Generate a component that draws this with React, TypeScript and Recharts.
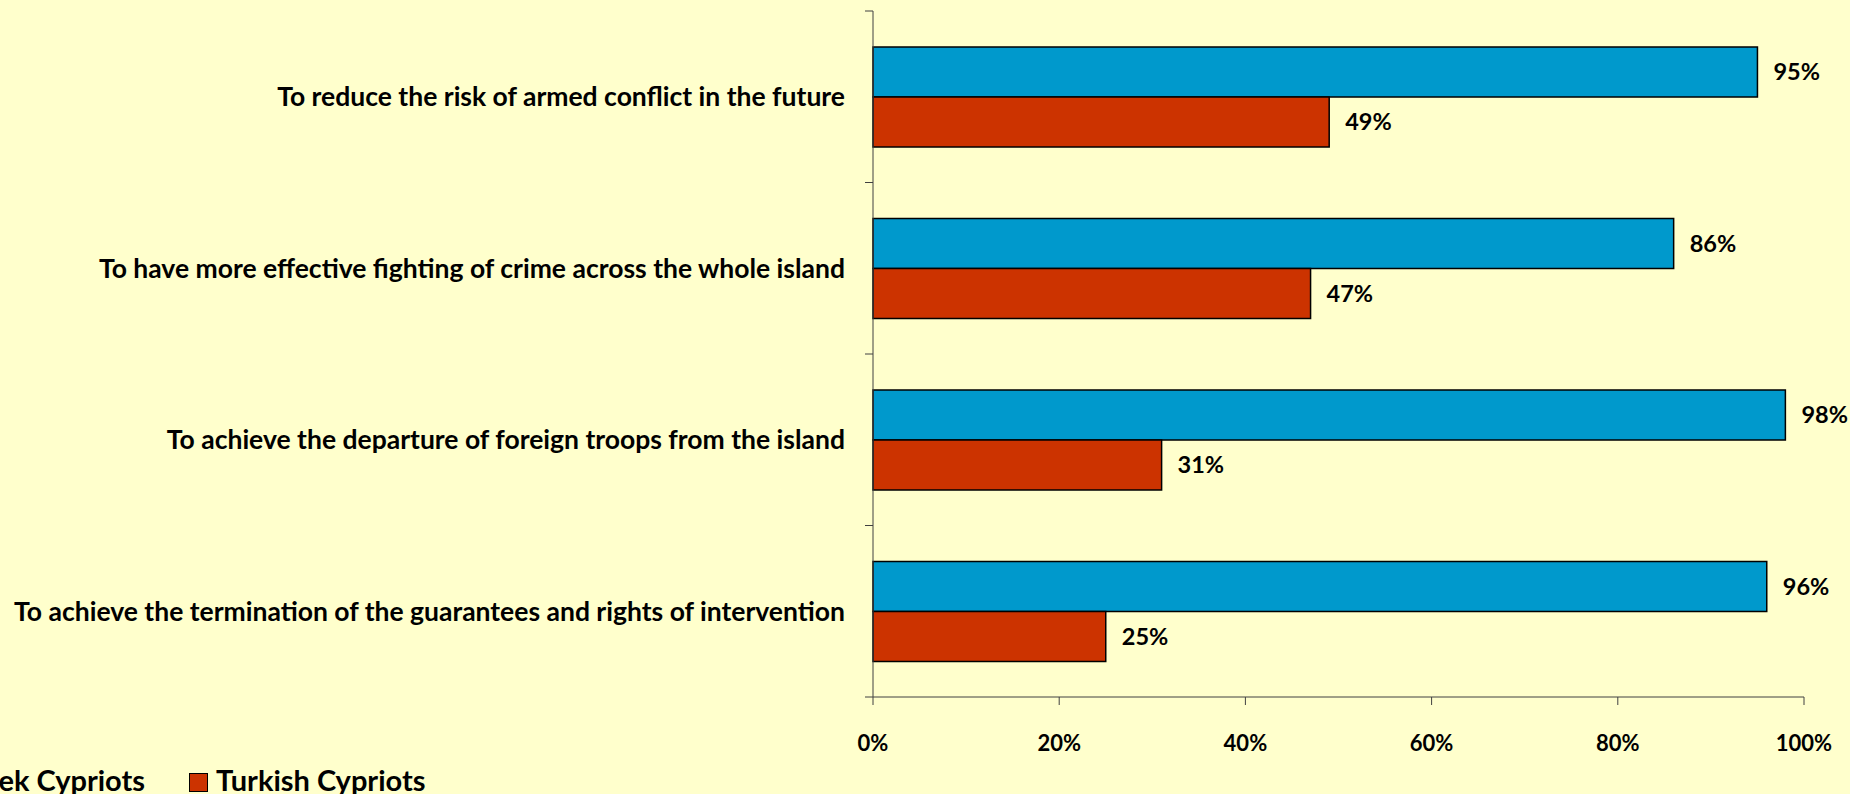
import { BarChart, Bar, XAxis, YAxis, Legend, LabelList } from "recharts";

const categories = [
  "To reduce the risk of armed conflict in the future",
  "To have more effective fighting of crime across the whole island",
  "To achieve the departure of foreign troops from the island",
  "To achieve the termination of the guarantees and rights of intervention",
];
const greekCypriots = [95, 86, 98, 96];
const turkishCypriots = [49, 47, 31, 25];
const xTicks = [0, 20, 40, 60, 80, 100];

const data = categories.map((name, i) => ({
  name,
  greek: greekCypriots[i],
  turkish: turkishCypriots[i],
}));

const W = 1850;
const H = 794;
const TOP = 11;
const BOTTOM_PLOT = 697;
const FONT = "Lato, sans-serif";
const BAND = (BOTTOM_PLOT - TOP) / categories.length;
const AXIS_COLOR = "#404040";

// category label at band centre, Excel-style tick marks at band edges
const CategoryTick = (props: any) => {
  const { x, y, payload, index } = props;
  const axisX = x + 28;
  const last = index === categories.length - 1;
  return (
    <g>
      <line x1={axisX - 8} x2={axisX} y1={y - BAND / 2} y2={y - BAND / 2} stroke={AXIS_COLOR} />
      {last && (
        <line x1={axisX - 8} x2={axisX} y1={y + BAND / 2} y2={y + BAND / 2} stroke={AXIS_COLOR} />
      )}
      <text
        x={x}
        y={y}
        dy="0.35em"
        textAnchor="end"
        fill="#000"
        fontFamily={FONT}
        fontWeight="bold"
        fontSize={26.5}
      >
        {payload.value}
      </text>
    </g>
  );
};

const LegendBox = () => {
  const square = (color: string) => (
    <span
      style={{
        display: "inline-block",
        width: 17,
        height: 17,
        background: color,
        border: "1.5px solid #000",
        marginRight: 8,
        position: "relative",
        top: 2,
      }}
    />
  );
  const item = { position: "absolute" as const, display: "flex", alignItems: "center", top: 0, height: 30, whiteSpace: "nowrap" as const };
  return (
    <div
      style={{
        position: "relative",
        width: W,
        height: 30,
        lineHeight: "30px",
        fontFamily: FONT,
        fontWeight: "bold",
        fontSize: 29,
        color: "#000",
      }}
    >
      <div style={{ ...item, right: W - 145 }}>
        {square("#0099CC")}
        Greek Cypriots
      </div>
      <div style={{ ...item, left: 189 }}>
        {square("#CC3300")}
        Turkish Cypriots
      </div>
    </div>
  );
};

export default function App() {
  return (
    <div style={{ width: W, height: H, background: "#FFFFCC", overflow: "hidden" }}>
      <style>{"body{margin:0;background:#FFFFCC}"}</style>
      <BarChart
        width={W}
        height={H}
        data={data}
        layout="vertical"
        margin={{ top: TOP, right: 46, bottom: H - BOTTOM_PLOT - 60, left: 0 }}
        barCategoryGap="21%"
        barGap={0}
      >
        <XAxis
          type="number"
          domain={[0, 100]}
          ticks={xTicks}
          tickFormatter={(v) => `${v}%`}
          height={60}
          stroke={AXIS_COLOR}
          tickSize={8}
          tickMargin={30}
          tick={{ fill: "#000", fontFamily: FONT, fontWeight: "bold", fontSize: 22 }}
          interval={0}
        />
        <YAxis
          type="category"
          dataKey="name"
          width={873}
          stroke={AXIS_COLOR}
          tickLine={false}
          tickSize={8}
          tickMargin={20}
          tick={<CategoryTick />}
          interval={0}
        />
        <Legend
          verticalAlign="middle"
          align="center"
          layout="horizontal"
          wrapperStyle={{ left: 0, top: 765, width: W, height: 30 }}
          content={<LegendBox />}
        />
        <Bar dataKey="greek" name="Greek Cypriots" fill="#0099CC" stroke="#000" strokeWidth={1.5} isAnimationActive={false}>
          <LabelList
            dataKey="greek"
            position="right"
            offset={16}
            formatter={(v: any) => `${v}%`}
            fill="#000"
            fontFamily={FONT}
            fontWeight="bold"
            fontSize={23.5}
          />
        </Bar>
        <Bar dataKey="turkish" name="Turkish Cypriots" fill="#CC3300" stroke="#000" strokeWidth={1.5} isAnimationActive={false}>
          <LabelList
            dataKey="turkish"
            position="right"
            offset={16}
            formatter={(v: any) => `${v}%`}
            fill="#000"
            fontFamily={FONT}
            fontWeight="bold"
            fontSize={23.5}
          />
        </Bar>
      </BarChart>
    </div>
  );
}
